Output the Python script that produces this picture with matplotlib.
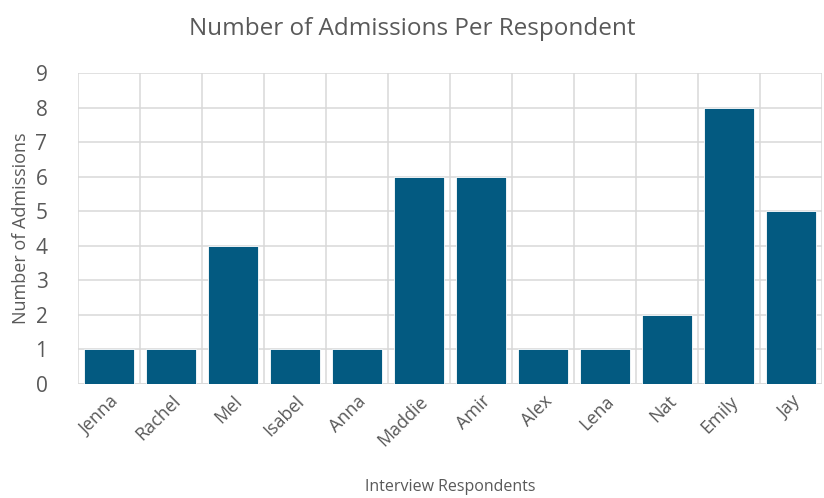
import matplotlib.pyplot as plt
import matplotlib.transforms as mtransforms
import numpy as np

# dados
respondents = ["Jenna", "Rachel", "Mel", "Isabel", "Anna", "Maddie",
               "Amir", "Alex", "Lena", "Nat", "Emily", "Jay"]
admissions = [1, 1, 4, 1, 1, 6, 6, 1, 1, 2, 8, 5]
yticks = list(range(0, 10))

plt.rcParams['font.family'] = ['Open Sans', 'DejaVu Sans']
cinza = '#595959'
grade = '#D9D9D9'

fig = plt.figure(figsize=(8.24, 4.98), dpi=100)
ax = fig.add_axes([0.0947, 0.229, 0.903, 0.6245])

x = np.arange(len(respondents))
ax.bar(x, admissions, width=0.8, color='#035A81', edgecolor='white', linewidth=0.6, zorder=3)

ax.set_xlim(-0.5, len(respondents) - 0.5)
ax.set_ylim(0, 9)
ax.set_yticks(yticks)
ax.set_xticks(x)
ax.set_xticklabels(respondents, rotation=45, ha='right', rotation_mode='anchor')
ax.set_xticks(np.arange(-0.5, len(respondents), 1), minor=True)

# desloca os rótulos um pouco para a direita, como no Excel
desloc = mtransforms.ScaledTranslation(14 / 100, 0, fig.dpi_scale_trans)
for lbl in ax.get_xticklabels():
    lbl.set_transform(lbl.get_transform() + desloc)

ax.grid(axis='y', which='major', color=grade, linewidth=1.1, zorder=0)
ax.grid(axis='x', which='minor', color=grade, linewidth=1.1, zorder=0)
ax.grid(axis='x', which='major', visible=False)
for s in ax.spines.values():
    s.set_visible(False)
ax.axhline(0, color=grade, linewidth=1.1, zorder=1)

ax.tick_params(axis='both', which='both', length=0, colors=cinza)
ax.tick_params(axis='y', labelsize=15, pad=22)
ax.tick_params(axis='x', labelsize=13, pad=6)

ax.set_xlabel('Interview Respondents', fontsize=11.5, color=cinza, labelpad=21)
ax.set_ylabel('Number of Admissions', fontsize=13, color=cinza, labelpad=4)
fig.suptitle('Number of Admissions Per Respondent', fontsize=17.5, color=cinza, y=0.965)

fig.savefig('out.png', dpi=100)
